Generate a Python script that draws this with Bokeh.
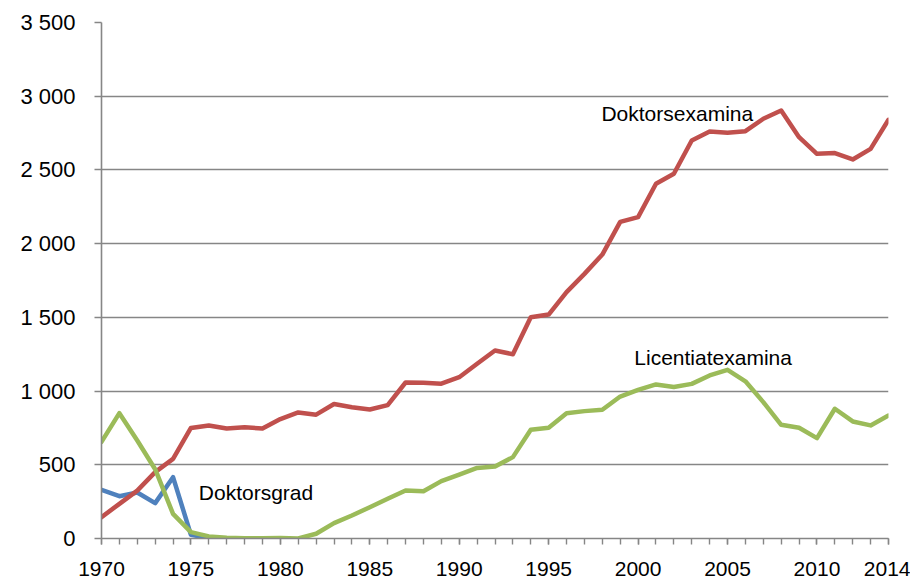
from bokeh.plotting import figure
from bokeh.models import FixedTicker, Range1d, ColumnDataSource
from bokeh.core.properties import value
from bokeh.embed import file_html
from bokeh.resources import INLINE

years = list(range(1970, 2015))

doktorsexamina = [145, 235, 325, 450, 540, 750, 767, 746, 755, 746,
                  810, 855, 840, 912, 890, 875, 905, 1058, 1056, 1050,
                  1094, 1185, 1275, 1250, 1501, 1519, 1671, 1795, 1926, 2148,
                  2180, 2406, 2474, 2700, 2760, 2752, 2763, 2847, 2903, 2722,
                  2609, 2614, 2571, 2643, 2840]

licentiatexamina = [655, 850, 665, 470, 167, 43, 14, 5, 2, 2,
                    3, 0, 32, 104, 156, 212, 270, 326, 321, 389,
                    434, 479, 488, 552, 737, 751, 850, 864, 873, 963,
                    1008, 1045, 1028, 1049, 1106, 1144, 1066, 925, 771, 751,
                    681, 880, 794, 767, 834]

doktorsgrad_years = [1970, 1971, 1972, 1973, 1974, 1975, 1976, 1977]
doktorsgrad = [330, 287, 312, 240, 416, 25, 3, 0]

x_ticks = [1970, 1975, 1980, 1985, 1990, 1995, 2000, 2005, 2010, 2014]
x_tick_labels = ["1970", "1975", "1980", "1985", "1990", "1995", "2000", "2005", "2010", "2014"]
y_ticks = [0, 500, 1000, 1500, 2000, 2500, 3000, 3500]
y_tick_labels = ["0", "500", "1 000", "1 500", "2 000", "2 500", "3 000", "3 500"]

label_text = ["Doktorsexamina", "Licentiatexamina", "Doktorsgrad"]
label_x = [1997.95, 1999.79, 1975.44]
label_y = [2880, 1230, 313]

FONT = "Liberation Sans"
GRID = "#868686"

p = figure(frame_width=787, frame_height=516,
           min_border_left=101, min_border_right=22, min_border_top=22, min_border_bottom=10,
           x_range=Range1d(1970, 2014), y_range=Range1d(0, 3500),
           output_backend="svg", toolbar_location=None, tools="")
p.outline_line_color = None
p.background_fill_color = "white"
p.border_fill_color = "white"

# grid
p.xgrid.visible = False
p.ygrid.ticker = FixedTicker(ticks=y_ticks[1:-1])
p.ygrid.grid_line_color = GRID
p.ygrid.grid_line_width = 1.6

# x axis
p.xaxis.ticker = FixedTicker(ticks=x_ticks, minor_ticks=years)
p.xaxis.major_label_overrides = dict(zip(x_ticks, x_tick_labels))
p.xaxis.axis_line_color = GRID
p.xaxis.axis_line_width = 1.6
p.xaxis.major_tick_line_color = GRID
p.xaxis.minor_tick_line_color = GRID
p.xaxis.major_tick_line_width = 1.4
p.xaxis.minor_tick_line_width = 1.4
p.xaxis.major_tick_in = 0
p.xaxis.major_tick_out = 6
p.xaxis.minor_tick_in = 0
p.xaxis.minor_tick_out = 6
p.xaxis.major_label_standoff = 17
p.xaxis.major_label_text_font = FONT
p.xaxis.major_label_text_font_size = "21px"
p.xaxis.major_label_text_color = "black"

# y axis
p.yaxis.ticker = FixedTicker(ticks=y_ticks)
p.yaxis.major_label_overrides = dict(zip(y_ticks, y_tick_labels))
p.yaxis.axis_line_color = GRID
p.yaxis.axis_line_width = 1.6
p.yaxis.major_tick_line_color = GRID
p.yaxis.major_tick_line_width = 1.6
p.yaxis.major_tick_in = 0
p.yaxis.major_tick_out = 7
p.yaxis.minor_tick_line_color = None
p.yaxis.major_label_standoff = 19
p.yaxis.major_label_text_font = FONT
p.yaxis.major_label_text_font_size = "22px"
p.yaxis.major_label_text_color = "black"

# series (drawn blue, red, green)
p.line(doktorsgrad_years, doktorsgrad, line_color="#4F81BD", line_width=4.5,
       line_join="round", line_cap="round")
p.line(years, doktorsexamina, line_color="#C0504D", line_width=4.5,
       line_join="round", line_cap="round")
p.line(years, licentiatexamina, line_color="#9BBB59", line_width=4.5,
       line_join="round", line_cap="round")

src = ColumnDataSource(dict(x=label_x, y=label_y, t=label_text))
p.text(x="x", y="y", text="t", source=src, text_font=value(FONT),
       text_font_size="21px", text_baseline="alphabetic", text_align="left",
       text_color="black")

open("out.html", "w").write(file_html(p, INLINE))
